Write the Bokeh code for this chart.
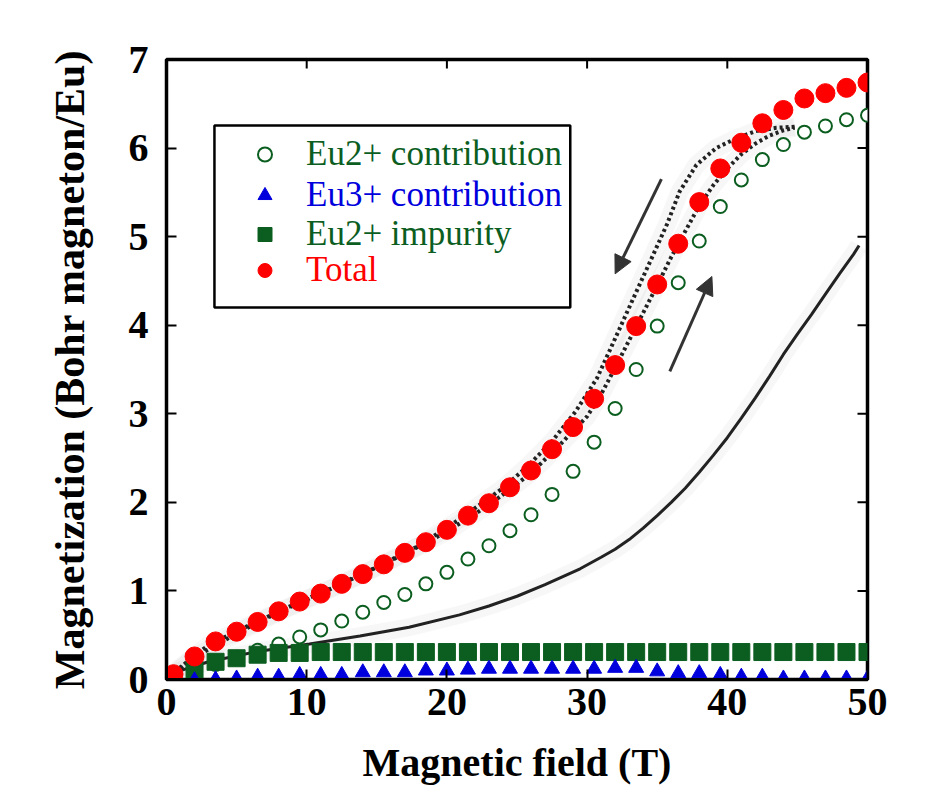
import math
from bokeh.plotting import figure
from bokeh.models import (Range1d, FixedTicker, Legend, LegendItem,
                          BoxAnnotation, Arrow, NormalHead)
from bokeh.embed import file_html
from bokeh.resources import INLINE

# ---------------- data ----------------
field = [0.5, 2.0, 3.5, 5.0, 6.5, 8.0, 9.5, 11.0, 12.5, 14.0, 15.5, 17.0,
         18.5, 20.0, 21.5, 23.0, 24.5, 26.0, 27.5, 29.0, 30.5, 32.0, 33.5,
         35.0, 36.5, 38.0, 39.5, 41.0, 42.5, 44.0, 45.5, 47.0, 48.5, 50.0]
total = [0.06, 0.26, 0.43, 0.54, 0.65, 0.77, 0.88, 0.97, 1.08, 1.19, 1.30, 1.43,
         1.55, 1.69, 1.85, 1.99, 2.17, 2.36, 2.60, 2.85, 3.17, 3.55, 3.99,
         4.46, 4.92, 5.39, 5.77, 6.06, 6.28, 6.43, 6.56, 6.62, 6.68, 6.74]
eu2_contrib = [0.03, 0.10, 0.17, 0.25, 0.33, 0.40, 0.48, 0.56, 0.66, 0.76, 0.87, 0.96,
               1.08, 1.21, 1.36, 1.51, 1.68, 1.86, 2.09, 2.35, 2.68, 3.06, 3.50,
               3.99, 4.48, 4.95, 5.34, 5.64, 5.87, 6.04, 6.18, 6.25, 6.32, 6.37]
eu3_contrib = [0.00, -0.01, 0.00, 0.01, 0.03, 0.03, 0.05, 0.05, 0.05, 0.08, 0.08, 0.08,
               0.10, 0.10, 0.11, 0.12, 0.12, 0.12, 0.12, 0.12, 0.12, 0.13, 0.13,
               0.09, 0.07, 0.07, 0.05, 0.03, 0.03, 0.01, 0.01, 0.01, 0.01, 0.01]
eu2_impurity = [0.00, 0.11, 0.20, 0.24, 0.28, 0.30, 0.30, 0.31, 0.31, 0.31, 0.31, 0.31,
                0.31, 0.31, 0.31, 0.31, 0.31, 0.31, 0.31, 0.31, 0.31, 0.31, 0.31,
                0.31, 0.31, 0.31, 0.31, 0.31, 0.31, 0.31, 0.31, 0.31, 0.31, 0.31]

# measured curves (dotted: up / down sweep; solid: other measurement)
up_field = [0, 2, 5, 8, 11, 14, 17, 20, 23, 26, 28, 30, 31, 32, 33, 34, 35, 36,
            37, 38, 39, 40, 41, 42, 43, 44, 44.8]
up_mag = [0, 0.25, 0.52, 0.76, 0.97, 1.19, 1.42, 1.67, 1.97, 2.33, 2.64, 2.97, 3.22,
          3.52, 3.83, 4.14, 4.45, 4.77, 5.06, 5.35, 5.58, 5.77, 5.93, 6.05, 6.14,
          6.20, 6.23]
down_field = [44.8, 43.5, 42.0, 40.5, 39.2, 37.8, 36.6, 35.7, 34.5, 33.2, 31.8, 30.7,
              29.2, 27.5, 25.9, 24.0, 21.0, 18.0, 15.0, 12.0, 9.0, 6.0, 3.0, 1.0, 0.3]
down_mag = [6.24, 6.23, 6.19, 6.10, 6.00, 5.81, 5.51, 5.14, 4.72, 4.27, 3.78, 3.40,
            3.03, 2.69, 2.43, 2.16, 1.82, 1.51, 1.27, 1.05, 0.84, 0.62, 0.39, 0.14, 0.02]
solid_field = [0, 1, 3, 6.6, 10.2, 13.8, 17.3, 20.9, 23, 25, 27, 29.5, 31, 32, 33, 34,
               35, 36, 37, 38, 39, 40, 41, 42, 43, 44, 45, 46, 47, 48, 49, 49.4]
solid_mag = [0, 0.10, 0.20, 0.32, 0.40, 0.49, 0.59, 0.73, 0.83, 0.94, 1.07, 1.25, 1.38,
             1.47, 1.58, 1.71, 1.85, 2.00, 2.16, 2.34, 2.53, 2.73, 2.95, 3.18, 3.42,
             3.67, 3.90, 4.12, 4.35, 4.58, 4.80, 4.90]

arrow_down = [35.3, 5.65, 32.0, 4.58]   # x_start, y_start, x_end, y_end
arrow_up = [35.9, 3.48, 38.9, 4.55]

x_ticks = [0, 10, 20, 30, 40, 50]
y_ticks = [0, 1, 2, 3, 4, 5, 6, 7]
top_ticks = [10, 20, 30, 40]
right_ticks = [1, 2, 3, 4, 5, 6]

labels = ["Eu2+ contribution", "Eu3+ contribution", "Eu2+ impurity", "Total"]
GREEN = "#0b5e1f"
BLUE = "#0000dd"
RED = "#ff0000"
FONT = "Liberation Serif"

# ---------------- figure ----------------
p = figure(width=909, height=788, x_range=Range1d(0, 50), y_range=Range1d(0, 7),
           output_backend="svg", toolbar_location=None,
           min_border_left=166, min_border_right=42, min_border_top=59,
           min_border_bottom=109)
p.grid.visible = False
p.outline_line_color = "black"
p.outline_line_width = 3.5
p.background_fill_color = "white"
p.border_fill_color = "white"

for ax in (p.xaxis[0], p.yaxis[0]):
    ax.major_tick_in = 10
    ax.major_tick_out = 0
    ax.minor_tick_line_color = None
    ax.major_tick_line_width = 2
    ax.axis_line_width = 3
    ax.major_label_text_font = FONT
    ax.major_label_text_font_style = "bold"
    ax.major_label_text_font_size = "40px"
    ax.major_label_text_color = "black"
    ax.axis_label_text_font = FONT
    ax.axis_label_text_font_style = "bold"
    ax.axis_label_text_color = "black"

p.xaxis[0].ticker = FixedTicker(ticks=x_ticks)
p.yaxis[0].ticker = FixedTicker(ticks=y_ticks)
p.xaxis[0].axis_label = "Magnetic field (T)"
p.yaxis[0].axis_label = "Magnetization (Bohr magneton/Eu)"
p.xaxis[0].axis_label_text_font_size = "40px"
p.yaxis[0].axis_label_text_font_size = "42px"
p.xaxis[0].major_label_standoff = 9
p.yaxis[0].major_label_standoff = 18
p.xaxis[0].axis_label_standoff = 22
p.yaxis[0].axis_label_standoff = 33

# inward ticks on the top and right frame edges
p.ray(x=top_ticks, y=[7] * len(top_ticks), length=9, length_units="screen",
      angle=-math.pi / 2, line_color="black", line_width=2)
p.ray(x=[50] * len(right_ticks), y=right_ticks, length=10, length_units="screen",
      angle=math.pi, line_color="black", line_width=2)

# faint halo of the scanned curves
for xs, ys in ((down_field, down_mag), (up_field, up_mag), (solid_field, solid_mag)):
    p.line(xs, ys, line_color="#999999", line_alpha=0.08, line_width=18)

# measured curves
p.line(up_field, up_mag, line_color="#222222", line_width=4, line_dash="3 3")
p.line(down_field, down_mag, line_color="#222222", line_width=4, line_dash="3 3")
p.line(solid_field, solid_mag, line_color="#222222", line_width=3)

for a in (arrow_down, arrow_up):
    p.add_layout(Arrow(x_start=a[0], y_start=a[1], x_end=a[2], y_end=a[3],
                       line_color="#333333", line_width=3,
                       end=NormalHead(size=18, fill_color="#333333",
                                      line_color="#333333", line_width=1)))

# model series
r_eu2 = p.scatter(field, eu2_contrib, marker="circle", size=13, line_color=GREEN,
                  line_width=2, fill_color="white")
r_imp = p.scatter(field, eu2_impurity, marker="square", size=17, line_color=GREEN,
                  fill_color=GREEN)
r_eu3 = p.scatter(field, eu3_contrib, marker="triangle", size=15, line_color=BLUE,
                  fill_color=BLUE)
r_tot = p.scatter(field, total, marker="circle", size=19, line_color=RED,
                  fill_color=RED)

# legend frame
p.add_layout(BoxAnnotation(left=3.42, right=28.8, bottom=4.20, top=6.255,
                           fill_alpha=0, line_color="black", line_alpha=1.0,
                           line_width=2.5, level="overlay"))

renderers = [r_eu2, r_eu3, r_imp, r_tot]
colors = [GREEN, BLUE, GREEN, RED]
row_bottoms = [505, 464, 425, 389]
for lab, rr, col, yb in zip(labels, renderers, colors, row_bottoms):
    leg = Legend(items=[LegendItem(label=lab, renderers=[rr])],
                 location=(81, yb), orientation="vertical",
                 border_line_alpha=0, background_fill_alpha=0,
                 padding=0, margin=0, spacing=0,
                 glyph_width=35, glyph_height=38, label_height=38,
                 label_standoff=24, label_text_font=FONT,
                 label_text_font_size="35px", label_text_color=col)
    p.add_layout(leg, "center")

open("out.html", "w").write(file_html(p, INLINE))
